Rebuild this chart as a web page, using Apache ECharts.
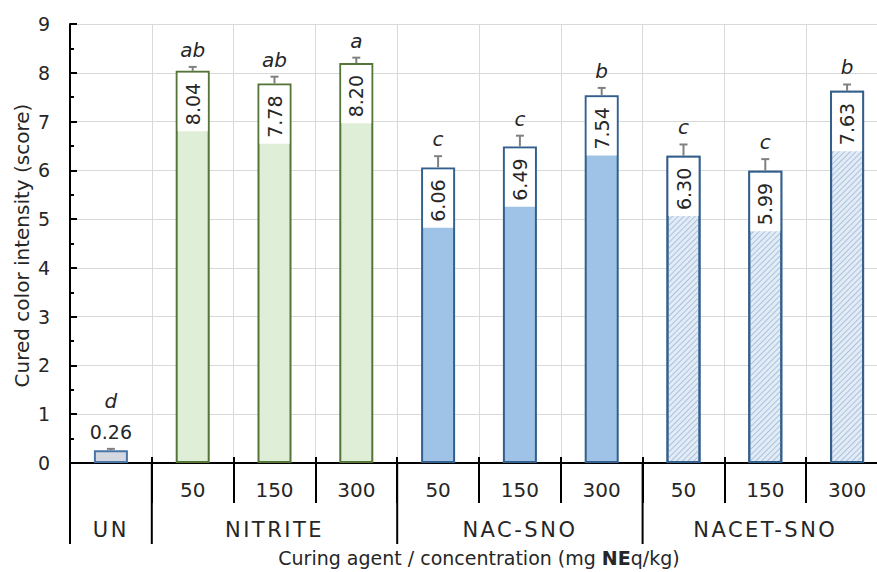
<!DOCTYPE html>
<html><head><meta charset="utf-8">
<script src="https://cdn.jsdelivr.net/npm/echarts@6/dist/echarts.min.js"></script>
<style>
html,body{margin:0;padding:0;background:#fff;overflow:hidden}
#c{width:900px;height:572px}
#c svg text[style*="21px"]{letter-spacing:2.5px}
</style></head><body><div id="c"></div>
<script>
// ---- data ----
const groups = ['UN', 'NITRITE', 'NAC-SNO', 'NACET-SNO'];
const groupSizes = [1, 3, 3, 3];
const concLabels = ['', '50', '150', '300', '50', '150', '300', '50', '150', '300'];
const barGroup = [0, 1, 1, 1, 2, 2, 2, 3, 3, 3];
const means = [0.26, 8.04, 7.78, 8.20, 6.06, 6.49, 7.54, 6.30, 5.99, 7.63];
const errors = [0.03, 0.08, 0.14, 0.11, 0.23, 0.22, 0.15, 0.23, 0.24, 0.13];
const letters = ['d', 'ab', 'ab', 'a', 'c', 'c', 'b', 'c', 'c', 'b'];
const yTitle = 'Cured color intensity (score)';
const xTitle = 'Curing agent / concentration (mg {b|NE}q/kg)';

// ---- styles ----
const FONT = 'DejaVu Sans';
const TXT = '#262626';
const groupStyles = [
  { color: '#d3d7df', borderColor: '#4a74a6', borderWidth: 2 },
  { color: '#dfeed6', borderColor: '#557538', borderWidth: 2 },
  { color: '#9ec3e6', borderColor: '#335f8c', borderWidth: 2 },
  { color: '#e3ecf6', borderColor: '#335f8c', borderWidth: 2,
    decal: { symbol: 'rect', symbolSize: 1, rotation: -Math.PI / 4,
             dashArrayX: [[1, 0]], dashArrayY: [1, 2.2], color: '#a9c2dc' } }
];

const chart = echarts.init(document.getElementById('c'), null, { renderer: 'svg' });

const barData = means.map((v, i) => {
  const item = { value: v, itemStyle: groupStyles[barGroup[i]] };
  if (v < 1) {
    item.label = { position: 'top', rotate: 0, align: 'center', verticalAlign: 'bottom',
      distance: 8, backgroundColor: 'transparent', padding: 0, height: 20, lineHeight: 20 };
  }
  return item;
});

const option = {
  animation: false,
  backgroundColor: '#fff',
  grid: { left: 70, top: 24, width: 818, height: 439 },
  xAxis: [
    { type: 'category', position: 'bottom', data: concLabels,
      axisLine: { show: true, lineStyle: { color: '#000', width: 2 } },
      axisTick: { show: true, interval: 0, length: 40, lineStyle: { color: '#000', width: 2 } },
      axisLabel: { interval: 0, margin: 17, fontSize: 20, fontFamily: FONT, color: TXT },
      splitLine: { show: true, interval: 0, lineStyle: { color: '#d9d9d9', width: 1 } } },
    { type: 'category', position: 'bottom', offset: 0, data: concLabels,
      axisLine: { show: false },
      axisTick: { show: true, inside: true, interval: 0, length: 6, lineStyle: { color: '#000', width: 2 } },
      axisLabel: { show: false }, splitLine: { show: false } },
    { type: 'category', position: 'bottom', offset: 0, data: concLabels,
      axisLine: { show: false },
      axisTick: { show: true, inside: true, alignWithLabel: true, interval: 0, length: 4,
                  lineStyle: { color: '#333', width: 1.5 } },
      axisLabel: { show: false }, splitLine: { show: false } }
  ],
  yAxis: {
    type: 'value', min: 0, max: 9, interval: 1,
    axisLine: { show: true, lineStyle: { color: '#000', width: 2 } },
    axisTick: { show: true, inside: true, length: 7, lineStyle: { color: '#000', width: 2 } },
    minorTick: { show: true, splitNumber: 2, length: 4, lineStyle: { color: '#000', width: 2 } },
    axisLabel: { margin: 20, fontSize: 19, fontFamily: FONT, color: TXT },
    splitLine: { show: true, lineStyle: { color: '#d9d9d9', width: 1 } }
  },
  series: [
    { type: 'bar', xAxisIndex: 0, yAxisIndex: 0, barWidth: 34, data: barData,
      label: { show: true, position: 'insideTop', rotate: 90, align: 'right', verticalAlign: 'middle',
        distance: 2, backgroundColor: '#fff', padding: [0, 10, 0, 6], height: 30, lineHeight: 30,
        fontSize: 19, fontFamily: FONT, color: TXT,
        formatter: p => Number(p.value).toFixed(2) } },
    { type: 'custom', xAxisIndex: 0, yAxisIndex: 0, z: 5,
      data: means.map((m, i) => [i, m, m + errors[i]]),
      renderItem: function (params, api) {
        const i = api.value(0);
        const base = api.coord([i, api.value(1)]);
        const top = api.coord([i, api.value(2)]);
        const cap = 4;
        const extra = api.value(1) < 1 ? 31 : 0;
        return { type: 'group', children: [
          { type: 'line', shape: { x1: base[0], y1: base[1], x2: top[0], y2: top[1] },
            style: { stroke: '#808080', lineWidth: 2 } },
          { type: 'line', shape: { x1: top[0] - cap, y1: top[1], x2: top[0] + cap, y2: top[1] },
            style: { stroke: '#808080', lineWidth: 2 } },
          { type: 'text', style: { text: letters[params.dataIndex], x: top[0], y: top[1] - 7 - extra,
            align: 'center', verticalAlign: 'bottom', fontSize: 20, fontStyle: 'italic',
            fontFamily: FONT, fill: TXT } }
        ] };
      } }
  ]
};
chart.setOption(option);

// ---- multi-level axis decorations, positioned via the chart's own scales ----
const px = i => chart.convertToPixel({ xAxisIndex: 0 }, i);
const axisY = chart.convertToPixel({ yAxisIndex: 0 }, 0);
const topY = chart.convertToPixel({ yAxisIndex: 0 }, 9);
const catW = px(1) - px(0);
const boundary = k => px(0) - catW / 2 + k * catW;
const graphics = [];
let start = 0;
const groupBounds = [0];
groupSizes.forEach(s => { start += s; groupBounds.push(start); });
groupBounds.forEach(k => {
  graphics.push({ type: 'line', shape: { x1: boundary(k), y1: axisY, x2: boundary(k), y2: axisY + 81 },
    style: { stroke: '#000', lineWidth: 2 }, z: 10 });
});
groups.forEach((g, gi) => {
  const cx = (boundary(groupBounds[gi]) + boundary(groupBounds[gi + 1])) / 2;
  graphics.push({ type: 'text', x: cx, y: axisY + 67,
    style: { text: g, align: 'center', verticalAlign: 'middle', fontSize: 21, fontFamily: FONT, fill: TXT }, z: 10 });
});
graphics.push({ type: 'text', x: (boundary(0) + boundary(10)) / 2, y: axisY + 95,
  style: { text: xTitle, align: 'center', verticalAlign: 'middle', fontSize: 19, fontFamily: FONT, fill: TXT,
    rich: { b: { fontSize: 19, fontFamily: FONT, fontWeight: 'bold', fill: TXT } } }, z: 10 });
graphics.push({ type: 'text', x: 22, y: (axisY + topY) / 2 + 2, rotation: Math.PI / 2,
  style: { text: yTitle, align: 'center', verticalAlign: 'middle', fontSize: 20, fontFamily: FONT, fill: TXT }, z: 10 });
chart.setOption({ graphic: graphics });
</script></body></html>
